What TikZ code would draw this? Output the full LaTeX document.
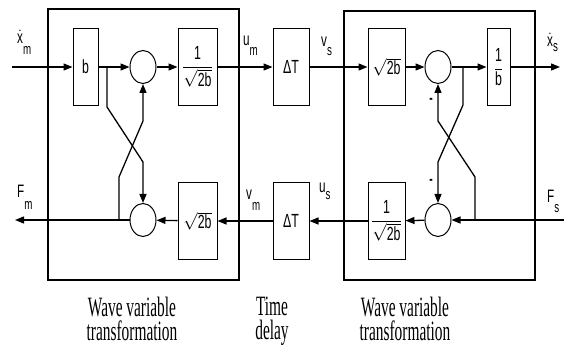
\documentclass[tikz,border=0pt]{standalone}
\usepackage{amsmath}
\usepackage{fontspec}
\setmainfont{Liberation Serif}
\newfontfamily\capfont{Liberation Serif}[FakeStretch=0.55]
\newfontfamily\lblfont{Liberation Sans}[FakeStretch=0.65]
\usetikzlibrary{arrows.meta,shapes.geometric}

\newcommand{\sigl}[3]{#1\raisebox{-#3}{\fontsize{15}{15}\selectfont #2}}
\newcommand{\rtwob}{$\sqrt{\mbox{2b}}$}
\newcommand{\invrtwob}{$\dfrac{\mbox{1}}{\sqrt{\mbox{2b}}}$}
\newcommand{\invb}{$\dfrac{\mbox{1}}{\mbox{b}}$}

\begin{document}
\begin{tikzpicture}[x=1pt, y=-1pt,
    blk/.style={rectangle, draw, line width=1pt,
                minimum width=#1, minimum height=77pt, inner sep=0pt,
                font=\lblfont\fontsize{19}{22}\selectfont},
    blk/.default=38pt,
    sumj/.style={ellipse, draw, line width=1pt,
                 minimum width=26pt, minimum height=33pt, inner sep=0pt},
    frame/.style={rectangle, draw, line width=1.2pt, inner sep=0pt},
    sig/.style={-{Triangle[length=9pt,width=7pt]}, line width=1.3pt},
    lab/.style={font=\lblfont\fontsize{18}{20}\selectfont, inner sep=0pt},
    capt/.style={font=\capfont\fontsize{28}{24}\selectfont,
                 align=center, inner sep=0pt},
]
\useasboundingbox (0,0) rectangle (564,347);

%% ─── Frames ─────────────────────────────────────────────────────────────────
\node[frame, minimum width=191pt, minimum height=271pt] (wvm) at (143.5,144.5) {};
\node[frame, minimum width=191pt, minimum height=269pt] (wvs) at (439.5,145.5) {};

%% ─── Master side (left) ─────────────────────────────────────────────────────
\node[blk=25pt] (bm)  at (85.5,67)  {b};
\node[sumj]     (sm1) at (143,67)   {};
\node[blk=39pt] (qm)  at (197.5,67) {\invrtwob};
\node[blk=39pt] (rm)  at (197.5,221) {\rtwob};
\node[sumj]     (sm2) at (143,220)  {};

%% ─── Time delay ─────────────────────────────────────────────────────────────
\node[blk=36pt] (dt1) at (291,67)  {ΔT};
\node[blk=36pt] (dt2) at (291,221) {ΔT};

%% ─── Slave side (right) ─────────────────────────────────────────────────────
\node[blk=37pt] (rs)  at (386.5,67)  {\rtwob};
\node[sumj]     (ss1) at (438,67)    {};
\node[blk=23pt] (bs)  at (498.5,67)  {\invb};
\node[blk=37pt] (qs)  at (386.5,221) {\invrtwob};
\node[sumj]     (ss2) at (438,220)   {};

%% ─── Free ends and branch points ────────────────────────────────────────────
\coordinate (xmin)  at (12,67);
\coordinate (fmout) at (15,220);
\coordinate (xsout) at (560,67);
\coordinate (fsin)  at (564,220);
\coordinate (jm1) at (107,67);
\coordinate (jm2) at (119,220);
\coordinate (js1) at (463,67);
\coordinate (js2) at (475,220);

%% ─── Signal labels ──────────────────────────────────────────────────────────
\node[lab, anchor=base west] (lxm) at (17,44)  {\sigl{$\dot{\mbox{x}}$}{m}{11pt}};
\node[lab, anchor=base west] (lfm) at (17,198) {\sigl{F}{m}{12pt}};
\node[lab, anchor=base west] (lum) at (243,46) {\sigl{u}{m}{10pt}};
\node[lab, anchor=base west] (lvm) at (246,200) {\sigl{v}{m}{11pt}};
\node[lab, anchor=base west] (lvs) at (321,47) {\sigl{v}{s}{9pt}};
\node[lab, anchor=base west] (lus) at (319,193) {\sigl{u}{s}{7pt}};
\node[lab, anchor=base west] (lxs) at (547,47) {\sigl{$\dot{\mbox{x}}$}{s}{5pt}};
\node[lab, anchor=base west] (lfs) at (547,203) {\sigl{F}{s}{10pt}};
\node[lab, font=\lblfont\bfseries\fontsize{16}{16}\selectfont] (mn1) at (431,101) {-};
\node[lab, font=\lblfont\bfseries\fontsize{16}{16}\selectfont] (mn2) at (431,182) {-};

%% ─── Captions ───────────────────────────────────────────────────────────────
\node[capt, anchor=north] (cwm) at (132,297) {Wave variable\\transformation};
\node[capt, anchor=north] (ctd) at (272,297) {Time\\delay};
\node[capt, anchor=north] (cws) at (405,297) {Wave variable\\transformation};

%% ─── Forward path ───────────────────────────────────────────────────────────
\draw[sig] (xmin) -- (bm);
\draw[sig] (bm)   -- (sm1);
\draw[sig] (sm1)  -- (qm);
\draw[sig] (qm)   -- (dt1);
\draw[sig] (dt1)  -- (rs);
\draw[sig] (rs)   -- (ss1);
\draw[sig] (ss1)  -- (bs);
\draw[sig] (bs)   -- (xsout);

%% ─── Return path ────────────────────────────────────────────────────────────
\draw[sig] (fsin) -- (ss2);
\draw[sig] (ss2)  -- (qs);
\draw[sig] (qs)   -- (dt2);
\draw[sig] (dt2)  -- (rm);
\draw[sig] (rm)   -- (sm2);
\draw[sig] (sm2)  -- (fmout);

%% ─── Cross couplings ────────────────────────────────────────────────────────
\draw[sig] (jm1) -- ++(0,40)  -- ([yshift=41pt]sm2.north) -- (sm2.north);
\draw[sig] (jm2) -- ++(0,-43) -- ([yshift=-37pt]sm1.south) -- (sm1.south);
\draw[sig] (js1) -- ++(0,38)  -- ([yshift=41pt]ss2.north) -- (ss2.north);
\draw[sig] (js2) -- ++(0,-43) -- ([yshift=-37pt]ss1.south) -- (ss1.south);

\end{tikzpicture}
\end{document}
